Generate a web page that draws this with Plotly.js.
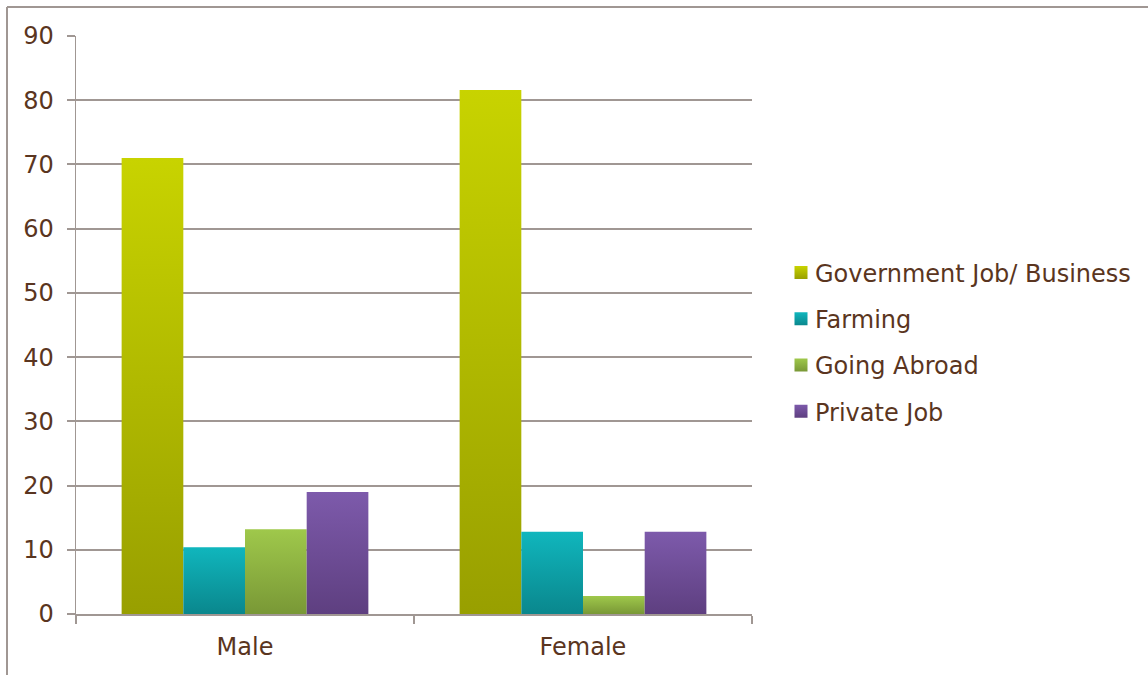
<!DOCTYPE html>
<html>
<head>
<meta charset="utf-8">
<script src="https://cdn.plot.ly/plotly-3.0.1.min.js"></script>
<style>
html,body{margin:0;padding:0;background:#fff;}
#chart{width:1148px;height:675px;}
</style>
</head>
<body>
<div id="chart"></div>
<script>
const categories = ["Male", "Female"];
const seriesNames = ["Government Job/ Business", "Farming", "Going Abroad", "Private Job"];
const govJob = [71.0, 81.6];
const farming = [10.4, 12.8];
const goingAbroad = [13.2, 2.8];
const privateJob = [19.0, 12.8];
const yTicks = [0, 10, 20, 30, 40, 50, 60, 70, 80, 90];

const seriesValues = [govJob, farming, goingAbroad, privateJob];
const midColors = ["#b0b800", "#0d9ea5", "#8cb042", "#6e4d96"];
const gradStops = [
  ["#c8d300", "#989f00"],
  ["#10b6bd", "#0a878d"],
  ["#9fc84b", "#799836"],
  ["#7d5aab", "#5e3f80"]
];

const fontFam = "DejaVu Sans, Verdana, sans-serif";
const txtColor = "#5a3520";
const gridCol = "#a09793";
const fs = 24;

const traces = seriesValues.map((vals, i) => ({
  type: "bar",
  name: seriesNames[i],
  x: categories,
  y: vals,
  marker: {color: midColors[i], line: {width: 0}},
  legendgroup: "g" + i,
  hoverinfo: "x+y+name"
}));

const L = 76, R = 396, T = 36, B = 61, W = 1148, H = 675;
const pw = W - L - R, ph = H - T - B;
const px2x = p => (p - L) / pw;
const py2y = p => (H - B - p) / ph;

const layout = {
  width: W, height: H,
  margin: {l: L, r: R, t: T, b: B},
  paper_bgcolor: "#fff",
  plot_bgcolor: "#fff",
  barmode: "group",
  bargap: 0.27,
  bargroupgap: 0,
  font: {family: fontFam, size: fs, color: txtColor},
  showlegend: true,
  legend: {
    xref: "container", yref: "container",
    x: 775 / W, xanchor: "left",
    y: 1 - 342 / H, yanchor: "middle",
    font: {family: fontFam, size: fs, color: txtColor},
    traceorder: "grouped",
    tracegroupgap: 12,
    bgcolor: "rgba(0,0,0,0)"
  },
  xaxis: {
    type: "category",
    showgrid: false,
    showline: true, linecolor: gridCol, linewidth: 2,
    ticks: "outside", tickson: "boundaries", ticklen: 8, tickcolor: gridCol, tickwidth: 1.5,
    tickfont: {family: fontFam, size: fs, color: txtColor},
    ticklabelstandoff: 10,
    fixedrange: true
  },
  yaxis: {
    range: [0, 90],
    tickvals: yTicks,
    ticktext: yTicks.map(String),
    showgrid: true, gridcolor: gridCol, gridwidth: 2,
    zeroline: false,
    showline: true, linecolor: gridCol, linewidth: 1.5,
    ticks: "outside", ticklen: 8, tickcolor: gridCol, tickwidth: 2,
    tickfont: {family: fontFam, size: fs, color: txtColor},
    ticklabelstandoff: 8,
    fixedrange: true
  },
  shapes: [
    {type: "line", xref: "paper", yref: "paper", x0: px2x(7), x1: px2x(7), y0: py2y(7), y1: py2y(680), line: {color: gridCol, width: 2}},
    {type: "line", xref: "paper", yref: "paper", x0: px2x(7), x1: px2x(1160), y0: py2y(7), y1: py2y(7), line: {color: gridCol, width: 2}}
  ]
};

Plotly.newPlot("chart", traces, layout, {displayModeBar: false, staticPlot: true}).then(gd => {
  const svg = gd.querySelector("svg.main-svg");
  const ns = "http://www.w3.org/2000/svg";
  let defs = svg.querySelector("defs");
  if (!defs) { defs = document.createElementNS(ns, "defs"); svg.insertBefore(defs, svg.firstChild); }
  gradStops.forEach((st, i) => {
    const g = document.createElementNS(ns, "linearGradient");
    g.setAttribute("id", "barGrad" + i);
    g.setAttribute("x1", "0"); g.setAttribute("y1", "0");
    g.setAttribute("x2", "0"); g.setAttribute("y2", "1");
    [[0, st[0]], [1, st[1]]].forEach(([o, c]) => {
      const s = document.createElementNS(ns, "stop");
      s.setAttribute("offset", o); s.setAttribute("stop-color", c);
      g.appendChild(s);
    });
    defs.appendChild(g);
  });
  gd.querySelectorAll(".barlayer .trace.bars").forEach((tr, i) => {
    tr.querySelectorAll("path").forEach(p => { p.style.fill = "url(#barGrad" + i + ")"; });
  });
  gd.querySelectorAll(".legend .traces").forEach((tr, i) => {
    tr.querySelectorAll(".legendpoints path").forEach(p => {
      p.style.fill = "url(#barGrad" + i + ")";
      p.setAttribute("d", "M6.5,6.5H-6.5V-6.5H6.5Z");
      p.setAttribute("transform", "translate(26,0)");
    });
  });
});
</script>
</body>
</html>
